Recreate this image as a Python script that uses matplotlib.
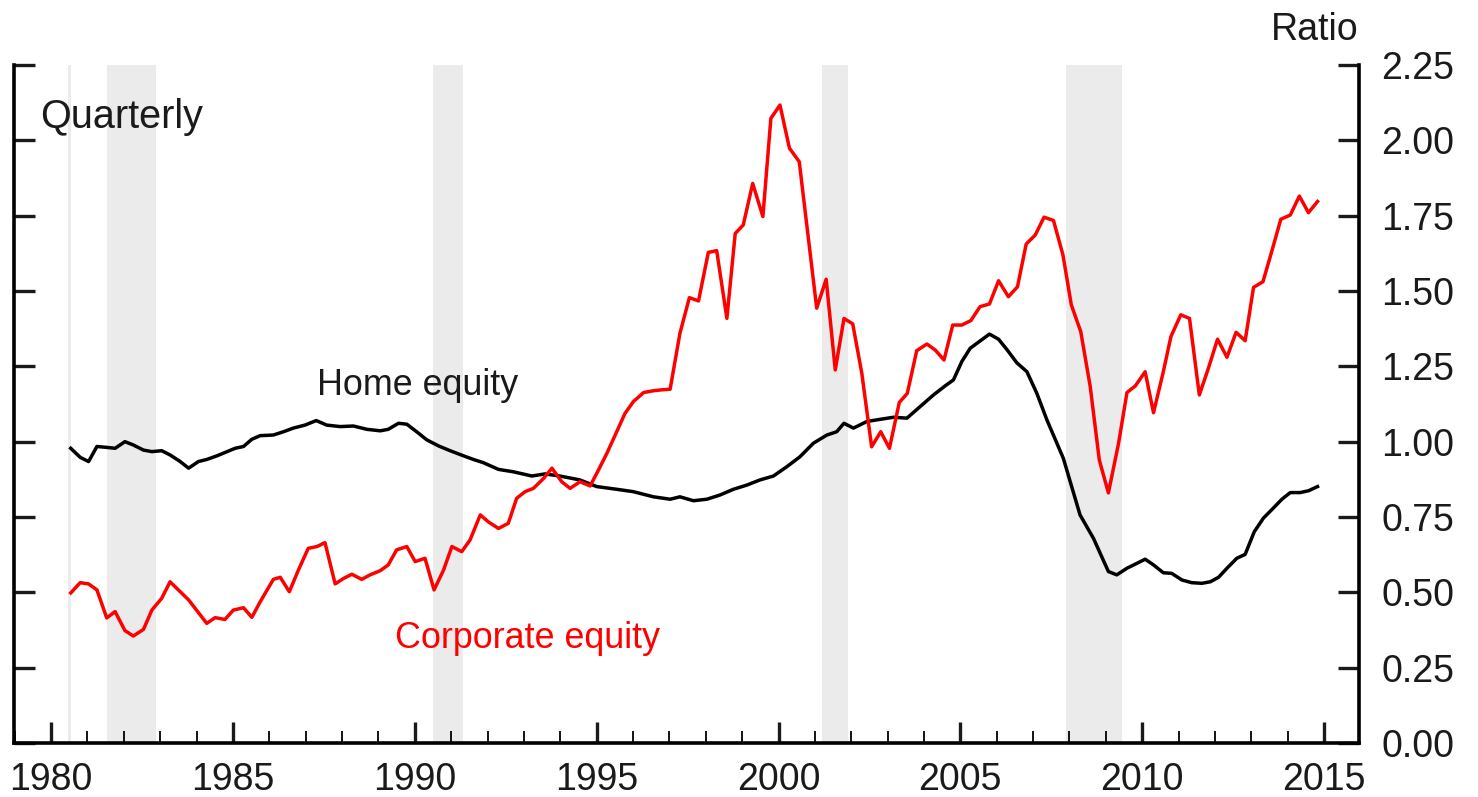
import matplotlib
matplotlib.use("Agg")
import matplotlib.pyplot as plt
from matplotlib.ticker import FixedLocator, MultipleLocator, FixedFormatter

plt.rcParams['font.family'] = ['Liberation Sans', 'DejaVu Sans']

# Corporate equity (red) - date, ratio
corp_dates = [1980.54, 1980.80, 1981.03, 1981.26, 1981.53, 1981.76, 1982.03, 1982.26, 1982.54, 1982.77,
              1983.04, 1983.27, 1983.78, 1984.28, 1984.51, 1984.78, 1985.01, 1985.29, 1985.52, 1985.75,
              1986.11, 1986.30, 1986.55, 1986.80, 1987.07, 1987.31, 1987.53, 1987.81, 1988.04, 1988.27,
              1988.54, 1988.77, 1989.05, 1989.27, 1989.50, 1989.78, 1990.01, 1990.28, 1990.53, 1990.79,
              1991.02, 1991.29, 1991.52, 1991.80, 1992.02, 1992.30, 1992.57, 1992.80, 1993.03, 1993.26,
              1993.54, 1993.77, 1994.04, 1994.27, 1994.54, 1994.82, 1995.05, 1995.28, 1995.55, 1995.78,
              1996.01, 1996.29, 1996.56, 1996.79, 1997.02, 1997.29, 1997.55, 1997.80, 1998.07, 1998.30,
              1998.58, 1998.81, 1999.03, 1999.29, 1999.57, 1999.79, 2000.04, 2000.30, 2000.57, 2001.05,
              2001.31, 2001.56, 2001.80, 2002.04, 2002.29, 2002.56, 2002.81, 2003.05, 2003.32, 2003.54,
              2003.80, 2004.08, 2004.31, 2004.55, 2004.79, 2005.04, 2005.29, 2005.54, 2005.80, 2006.05,
              2006.32, 2006.57, 2006.81, 2007.06, 2007.30, 2007.56, 2007.82, 2008.05, 2008.31, 2008.57,
              2008.82, 2009.07, 2009.35, 2009.58, 2009.81, 2010.08, 2010.31, 2010.57, 2010.79, 2011.06,
              2011.30, 2011.57, 2011.82, 2012.07, 2012.33, 2012.58, 2012.83, 2013.06, 2013.32, 2013.56,
              2013.81, 2014.07, 2014.32, 2014.57, 2014.82]
corp_values = [0.498, 0.532, 0.528, 0.508, 0.415, 0.436, 0.373, 0.355, 0.377, 0.441,
               0.480, 0.535, 0.475, 0.397, 0.416, 0.410, 0.441, 0.449, 0.417, 0.469,
               0.543, 0.550, 0.502, 0.574, 0.646, 0.652, 0.665, 0.528, 0.546, 0.560,
               0.543, 0.558, 0.572, 0.591, 0.641, 0.652, 0.602, 0.613, 0.508, 0.574,
               0.652, 0.635, 0.674, 0.757, 0.734, 0.712, 0.729, 0.812, 0.834, 0.845,
               0.878, 0.912, 0.867, 0.845, 0.867, 0.853, 0.906, 0.961, 1.033, 1.094,
               1.133, 1.163, 1.169, 1.172, 1.174, 1.360, 1.478, 1.467, 1.628, 1.634,
               1.409, 1.691, 1.719, 1.857, 1.747, 2.073, 2.117, 1.974, 1.929, 1.443,
               1.539, 1.238, 1.409, 1.391, 1.227, 0.983, 1.033, 0.978, 1.130, 1.160,
               1.302, 1.324, 1.304, 1.271, 1.387, 1.387, 1.402, 1.448, 1.457, 1.534,
               1.481, 1.514, 1.656, 1.686, 1.745, 1.734, 1.620, 1.454, 1.365, 1.183,
               0.939, 0.830, 0.995, 1.163, 1.185, 1.232, 1.096, 1.227, 1.349, 1.421,
               1.409, 1.155, 1.244, 1.340, 1.280, 1.363, 1.335, 1.512, 1.531, 1.631,
               1.738, 1.752, 1.815, 1.760, 1.797]

# Home equity (black) - date, ratio
home_dates = [1980.54, 1980.80, 1981.03, 1981.26, 1981.53, 1981.76, 1982.03, 1982.26, 1982.54, 1982.77,
              1983.04, 1983.27, 1983.55, 1983.78, 1984.05, 1984.28, 1984.56, 1984.78, 1985.06, 1985.29,
              1985.52, 1985.75, 1986.11, 1986.39, 1986.66, 1986.98, 1987.29, 1987.58, 1987.95, 1988.31,
              1988.68, 1989.05, 1989.27, 1989.55, 1989.78, 1990.05, 1990.33, 1990.65, 1990.97, 1991.34,
              1991.61, 1991.89, 1992.30, 1992.71, 1993.22, 1993.58, 1993.99, 1994.54, 1995.00, 1995.55,
              1996.01, 1996.56, 1997.02, 1997.29, 1997.66, 1998.03, 1998.39, 1998.76, 1999.13, 1999.49,
              1999.86, 2000.23, 2000.59, 2000.96, 2001.33, 2001.60, 2001.80, 2002.06, 2002.43, 2002.79,
              2003.16, 2003.53, 2003.89, 2004.26, 2004.58, 2004.81, 2005.04, 2005.27, 2005.54, 2005.80,
              2006.05, 2006.29, 2006.55, 2006.83, 2007.10, 2007.38, 2007.83, 2008.29, 2008.66, 2009.07,
              2009.30, 2009.58, 2009.85, 2010.08, 2010.31, 2010.58, 2010.81, 2011.09, 2011.36, 2011.64,
              2011.87, 2012.10, 2012.33, 2012.60, 2012.83, 2013.08, 2013.33, 2013.60, 2013.84, 2014.07,
              2014.34, 2014.57, 2014.82]
home_values = [0.978, 0.948, 0.934, 0.984, 0.981, 0.978, 1.000, 0.989, 0.972, 0.967,
               0.970, 0.956, 0.934, 0.912, 0.934, 0.941, 0.953, 0.964, 0.978, 0.984,
               1.008, 1.020, 1.022, 1.033, 1.045, 1.055, 1.070, 1.055, 1.050, 1.052,
               1.041, 1.036, 1.041, 1.061, 1.058, 1.033, 1.006, 0.986, 0.970, 0.953,
               0.941, 0.930, 0.908, 0.900, 0.886, 0.893, 0.886, 0.873, 0.851, 0.842,
               0.834, 0.817, 0.809, 0.817, 0.804, 0.809, 0.823, 0.842, 0.856, 0.873,
               0.886, 0.917, 0.950, 0.995, 1.022, 1.033, 1.061, 1.045, 1.067, 1.074,
               1.081, 1.078, 1.116, 1.155, 1.185, 1.205, 1.266, 1.310, 1.334, 1.357,
               1.340, 1.304, 1.262, 1.232, 1.161, 1.072, 0.945, 0.757, 0.679, 0.569,
               0.558, 0.580, 0.596, 0.610, 0.591, 0.565, 0.563, 0.541, 0.532, 0.530,
               0.535, 0.550, 0.580, 0.613, 0.626, 0.701, 0.746, 0.779, 0.809, 0.831,
               0.831, 0.837, 0.851]

recession_starts = [1980.47, 1981.54, 1990.50, 2001.20, 2007.90]
recession_ends = [1980.56, 1982.89, 1991.33, 2001.90, 2009.45]

y_ticks = [0.0, 0.25, 0.5, 0.75, 1.0, 1.25, 1.5, 1.75, 2.0, 2.25]
y_tick_labels = ['0.00', '0.25', '0.50', '0.75', '1.00', '1.25', '1.50', '1.75', '2.00', '2.25']
x_ticks = [1980, 1985, 1990, 1995, 2000, 2005, 2010, 2015]

W, H = 1478, 797
fig = plt.figure(figsize=(W / 100, H / 100), dpi=100)
ax = fig.add_axes([14 / W, 1 - 743 / H, (1359 - 14) / W, (743 - 65) / H])

for s, e in zip(recession_starts, recession_ends):
    ax.axvspan(s, e, color='#ebebeb', lw=0, zorder=0)

ax.plot(home_dates, home_values, color='black', lw=2.5, zorder=3)
ax.plot(corp_dates, corp_values, color='#ff0000', lw=2.5, zorder=4)

ax.set_xlim(1978.98, 2015.96)
ax.set_ylim(0, 2.25)

for side in ['left', 'right', 'bottom']:
    ax.spines[side].set_linewidth(2.6)
ax.spines['top'].set_visible(False)

ax.xaxis.set_major_locator(FixedLocator(x_ticks))
ax.xaxis.set_minor_locator(MultipleLocator(1))
ax.tick_params(axis='x', which='major', direction='in', length=15, width=2.4,
               labelsize=27, pad=14, colors='#1a1a1a')
ax.tick_params(axis='x', which='minor', direction='in', length=9, width=1.3)

ax.yaxis.set_major_locator(FixedLocator(y_ticks))
ax.yaxis.set_major_formatter(FixedFormatter(y_tick_labels))
ax.yaxis.set_minor_locator(FixedLocator([2.25]))
ax.tick_params(axis='y', which='major', direction='in', length=15, width=2.4,
               left=True, right=True, labelleft=False, labelright=True,
               labelsize=27, pad=16, colors='#1a1a1a')
ax.tick_params(axis='y', which='minor', direction='in', length=30, width=2.4,
               left=True, right=True, labelleft=False, labelright=False)

ax.text(40 / W, 1 - 128 / H, 'Quarterly', transform=fig.transFigure, fontsize=28.5,
        color='#1a1a1a', ha='left', va='baseline')
ax.text(1359 / W, 1 - 40 / H, 'Ratio', transform=fig.transFigure, fontsize=27,
        color='#1a1a1a', ha='right', va='baseline')
ax.text(317 / W, 1 - 395 / H, 'Home equity', transform=fig.transFigure, fontsize=25.8,
        color='#1a1a1a', ha='left', va='baseline')
ax.text(395 / W, 1 - 648 / H, 'Corporate equity', transform=fig.transFigure, fontsize=25.8,
        color='#ff0000', ha='left', va='baseline')

fig.savefig('out.png', dpi=100)
